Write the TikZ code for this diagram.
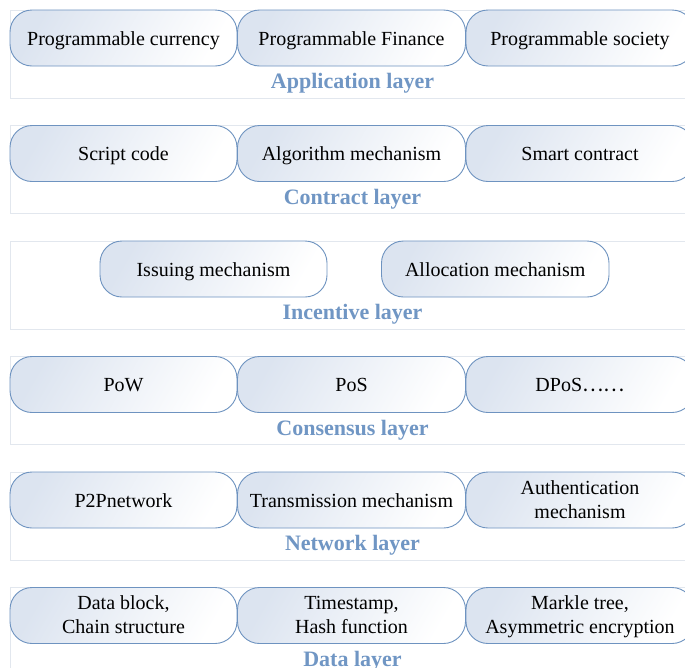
\documentclass[tikz,border=0pt]{standalone}
\usepackage{fontspec}
\setmainfont{Liberation Serif}
\newfontfamily\cjkdots{Noto Sans CJK SC}
\definecolor{bordc}{RGB}{110,147,192}
\definecolor{fillc}{RGB}{220,228,240}
\definecolor{labc}{RGB}{112,150,196}
\definecolor{layc}{RGB}{226,231,238}
\tikzset{
  layerbox/.style={draw=layc, line width=0.8pt, fill=white},
  itembox/.style={draw=bordc, line width=0.9pt, rounded corners=22pt,
    left color=fillc, middle color=white, right color=white, shading angle=60},
  itemtext/.style={align=center, font=\fontsize{20}{24}\selectfont, inner sep=0pt,
    text height=16pt, text depth=2pt},
  itemtexttwo/.style={align=center, font=\fontsize{20}{24}\selectfont, inner sep=0pt,
    text height=38.5pt, text depth=2pt},
  laytext/.style={font=\fontsize{22}{26}\selectfont\bfseries, text=labc, inner sep=0pt},
}
\begin{document}
\begin{tikzpicture}[x=1pt,y=1pt]
\useasboundingbox (0,0) rectangle (685,-667);
\clip (0,0) rectangle (685,-667);
\fill[white] (0,0) rectangle (685,-667);
% layer tops: 10,125.5,241,356.5,472,587.5
\foreach \t/\lab/\nm in {10/Application layer/la, 125.5/Contract layer/lb, 241/Incentive layer/lc, 356.5/Consensus layer/ld, 472/Network layer/le, 587.5/Data layer/lf}{
  \draw[layerbox] (10,-\t) rectangle (700,-\t-88);
  \node[laytext, anchor=base] (\nm) at (352.5,-\t-78.5) {\lab};
}
% boxes
\newcommand{\ibox}[6]{% style, name, x1, top, x2, text
  \shade[itembox] (#3,-#4) rectangle (#5,-#4-56);
  \node[#1] (#2) at ({(#3+#5)/2},-#4-28) {#6};
}
\ibox{itemtext}{a1}{10}{10}{237}{Programmable currency}
\ibox{itemtext}{a2}{237.5}{10}{465.5}{Programmable Finance}
\ibox{itemtext}{a3}{466}{10}{694}{Programmable society}
\ibox{itemtext}{b1}{10}{125.5}{237}{Script code}
\ibox{itemtext}{b2}{237.5}{125.5}{465.5}{Algorithm mechanism}
\ibox{itemtext}{b3}{466}{125.5}{694}{Smart contract}
\ibox{itemtext}{c1}{100}{241}{327}{Issuing mechanism}
\ibox{itemtext}{c2}{381.5}{241}{609}{Allocation mechanism}
\ibox{itemtext}{d1}{10}{356.5}{237}{PoW}
\ibox{itemtext}{d2}{237.5}{356.5}{465.5}{PoS}
\ibox{itemtext}{d3}{466}{356.5}{694}{DPoS{\cjkdots ……}}
\ibox{itemtext}{e1}{10}{472}{237}{P2Pnetwork}
\ibox{itemtext}{e2}{237.5}{472}{465.5}{Transmission mechanism}
\ibox{itemtexttwo}{e3}{466}{472}{694}{Authentication\\mechanism}
\ibox{itemtexttwo}{f1}{10}{587.5}{237}{Data block,\\Chain structure}
\ibox{itemtexttwo}{f2}{237.5}{587.5}{465.5}{Timestamp,\\Hash function}
\ibox{itemtexttwo}{f3}{466}{587.5}{694}{Markle tree,\\Asymmetric encryption}
\end{tikzpicture}
\end{document}
